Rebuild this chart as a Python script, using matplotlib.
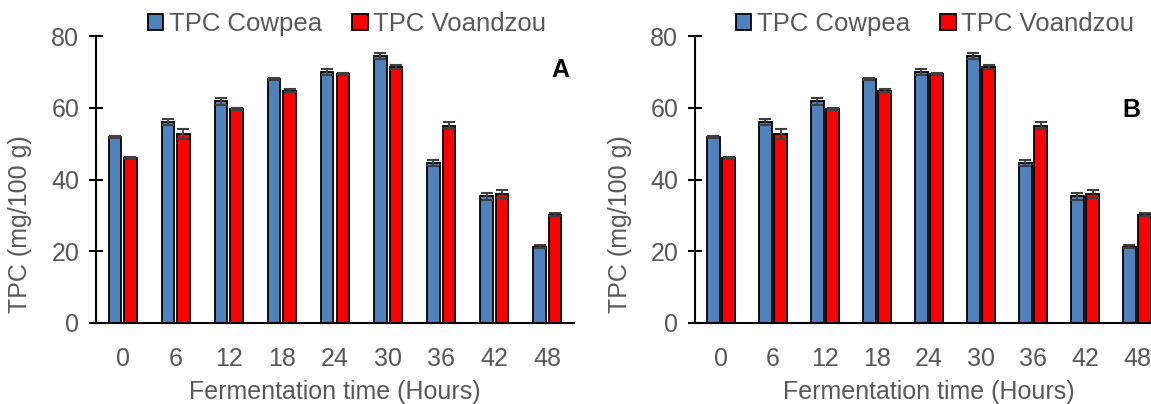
import numpy as np
import matplotlib
matplotlib.use("Agg")
import matplotlib.pyplot as plt
from matplotlib.patches import Patch

plt.rcParams["font.family"] = ["Liberation Sans", "DejaVu Sans"]

# Data
hours = ["0", "6", "12", "18", "24", "30", "36", "42", "48"]
cowpea = [51.8, 56.0, 61.8, 68.0, 70.0, 74.5, 44.5, 35.3, 21.3]
cowpea_err = [0.3, 0.8, 0.9, 0.4, 0.9, 0.9, 0.8, 0.9, 0.4]
voandzou = [46.0, 52.7, 59.7, 64.8, 69.5, 71.3, 55.0, 36.0, 30.2]
voandzou_err = [0.3, 1.5, 0.3, 0.5, 0.3, 0.5, 1.0, 1.1, 0.5]
panel_labels = ["A", "B"]

blue = "#4F81BD"
red = "#FF0000"
grey = "#595959"

W, H = 1151, 404
fig = plt.figure(figsize=(W / 100, H / 100), dpi=100)

# axes boxes in pixels: left, right
boxes = [(96, 574), (695, 1163)]
label_pos = [(560, 70), (1131, 110)]
legend_cx = [347, 935]
ylabel_x = [20, 620]

x = np.arange(len(hours))
w = 0.235
off = 0.146

for i, (l, r) in enumerate(boxes):
    ax = fig.add_axes([l / W, 81 / H, (r - l) / W, (323 - 36) / H])
    ax.bar(x - off, cowpea, w, color=blue, edgecolor="black", linewidth=1.3, zorder=2)
    ax.bar(x + off, voandzou, w, color=red, edgecolor="black", linewidth=1.3, zorder=2)
    ax.errorbar(x - off, cowpea, yerr=cowpea_err, fmt="none", ecolor="#404040",
                elinewidth=1.3, capsize=4.5, capthick=1.5, zorder=3)
    ax.errorbar(x + off, voandzou, yerr=voandzou_err, fmt="none", ecolor="#404040",
                elinewidth=1.3, capsize=4.5, capthick=1.5, zorder=3)

    ax.set_xlim(-0.5, len(hours) - 0.5)
    ax.set_ylim(0, 80)
    ax.set_yticks([0, 20, 40, 60, 80])
    ax.set_xticks(x)
    ax.set_xticklabels(hours)
    for s in ["top", "right"]:
        ax.spines[s].set_visible(False)
    ax.spines["left"].set_linewidth(1.5)
    ax.spines["bottom"].set_linewidth(1.5)
    ax.tick_params(axis="y", direction="inout", length=10, width=1.5,
                   labelsize=18, labelcolor=grey, pad=7)
    ax.tick_params(axis="x", length=0, labelsize=18, labelcolor=grey, pad=17)
    ax.set_xlabel("Fermentation time (Hours)", fontsize=18, color=grey, labelpad=7)

    fig.text(ylabel_x[i] / W, 179.5 / H, "TPC (mg/100 g)", rotation=90,
             fontsize=18, color=grey, ha="center", va="center")

    fig.text(label_pos[i][0] / W, 1 - label_pos[i][1] / H, panel_labels[i],
             fontsize=18, fontweight="bold", color="black", ha="center", va="center")

    handles = [Patch(facecolor=blue, edgecolor="black", linewidth=1.3),
               Patch(facecolor=red, edgecolor="black", linewidth=1.3)]
    fig.legend(handles, ["TPC Cowpea", "TPC Voandzou"], ncol=2,
               loc="center", bbox_to_anchor=(legend_cx[i] / W, 1 - 24 / H),
               frameon=False, fontsize=18.5, labelcolor=grey,
               handlelength=0.6, handleheight=0.6, handletextpad=0.2,
               columnspacing=1.2, borderaxespad=0, borderpad=0)

fig.savefig("out.png", dpi=100)
